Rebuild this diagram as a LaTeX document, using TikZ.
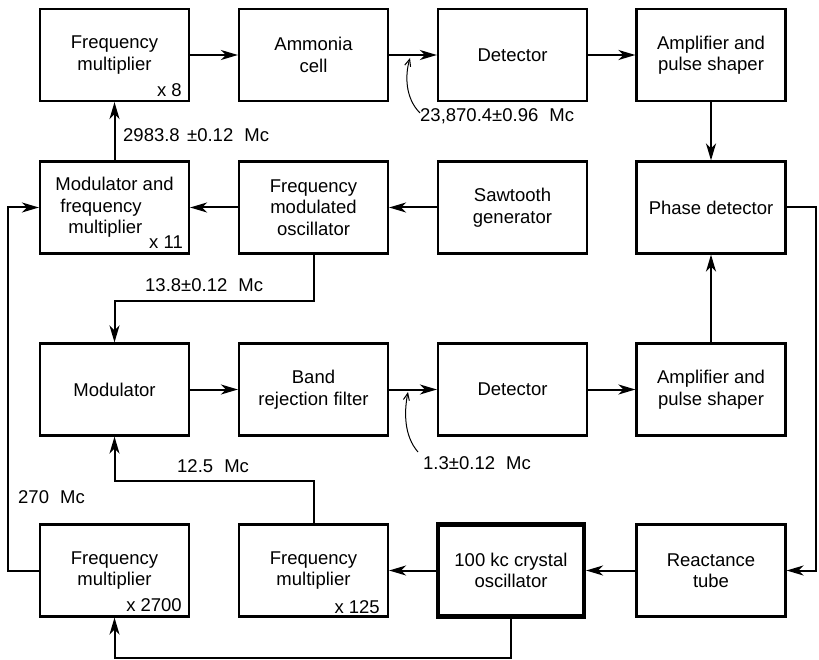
\documentclass[tikz,border=0pt]{standalone}
\usepackage{fontspec}
\setmainfont{Liberation Sans}
\usetikzlibrary{arrows.meta}
\begin{document}
\begin{tikzpicture}[x=1pt,y=-1pt,
  font=\fontsize{18.5}{21.5}\selectfont,
  box/.style={draw, line width=2.2pt, minimum width=149pt, minimum height=92pt, align=center, inner sep=2pt},
  thickbox/.style={box, line width=4.2pt, minimum width=146pt, minimum height=92pt},
  conn/.style={line width=2pt},
  arr/.style={conn, -{Stealth[length=17pt,width=10pt,inset=5pt]}},
  ptr/.style={line width=1pt, -{Straight Barb[length=7pt,width=6pt]}},
  lab/.style={inner sep=0pt, anchor=west},
  fac/.style={inner sep=0pt, anchor=east}]
\useasboundingbox (0,0) rectangle (819,660);

% row 1
\node[box] (fm8)  at (114.5,55) {Frequency\\multiplier};
\node[box] (amm)  at (313.5,55) {Ammonia\\cell};
\node[box] (det1) at (512.5,55) {Detector};
\node[box] (amp1) at (711,55) {Amplifier and\\pulse shaper};
% row 2
\node[box, align=left] (mod11) at (114.5,207.5) {Modulator and\\\hspace*{5pt}frequency\\\hspace*{13pt}multiplier};
\node[box] (fmo)  at (313.5,207.5) {Frequency\\modulated\\oscillator};
\node[box] (saw)  at (512.5,207.5) {Sawtooth\\generator};
\node[box] (phd)  at (711,207.5) {Phase detector};
% row 3
\node[box] (mod)  at (114.5,389.5) {Modulator};
\node[box] (brf)  at (313.5,389.5) {Band\\rejection filter};
\node[box] (det2) at (512.5,389.5) {Detector};
\node[box] (amp2) at (711,389.5) {Amplifier and\\pulse shaper};
% row 4
\node[box] (fm2700) at (114.5,570.5) {Frequency\\multiplier};
\node[box] (fm125)  at (313.5,570.5) {Frequency\\multiplier};
\node[thickbox] (xtal) at (511,570.5) {100 kc crystal\\oscillator};
\node[box] (reac)   at (711,570.5) {Reactance\\tube};

% factors
\node[fac] (f8)    at (182,90)  {x 8};
\node[fac] (f11)   at (183,242) {x 11};
\node[fac] (f2700) at (182,605) {x 2700};
\node[fac] (f125)  at (380,607) {x 125};

% labels
\node[lab] (l1) at (123,135) {2983.8\hspace{0.4em}±0.12\hspace{0.6em}Mc};
\node[lab] (l2) at (420,116) {23,870.4±0.96\hspace{0.6em}Mc};
\node[lab] (l3) at (145,285) {13.8±0.12\hspace{0.6em}Mc};
\node[lab] (l4) at (177,466) {12.5\hspace{0.6em}Mc};
\node[lab] (l5) at (18,497)  {270\hspace{0.6em}Mc};
\node[lab] (l6) at (423,463) {1.3±0.12\hspace{0.6em}Mc};

% junction coordinates
\coordinate (j1) at (313.5,301);
\coordinate (j2) at (313.5,481);
\coordinate (r1) at (816,207.5);
\coordinate (r2) at (816,570.5);
\coordinate (q1) at (8,570.5);
\coordinate (q2) at (8,207.5);
\coordinate (b1) at (511,658);
\coordinate (b2) at (114.5,658);
\coordinate (t1) at (410,58);
\coordinate (s1) at (420,113);
\coordinate (t2) at (408,392);
\coordinate (s2) at (418,452);

% connectors
\draw[arr] (mod11) -- (fm8);
\draw[arr] (fm8) -- (amm);
\draw[arr] (amm) -- (det1);
\draw[arr] (det1) -- (amp1);
\draw[arr] (amp1) -- (phd);
\draw[arr] (saw) -- (fmo);
\draw[arr] (fmo) -- (mod11);
\draw[arr] (fmo.south) -- (j1) -| (mod.north);
\draw[arr] (phd.east) -- (r1) -- (r2) -- (reac.east);
\draw[arr] (mod) -- (brf);
\draw[arr] (brf) -- (det2);
\draw[arr] (det2) -- (amp2);
\draw[arr] (amp2) -- (phd);
\draw[arr] (reac) -- (xtal);
\draw[arr] (xtal) -- (fm125);
\draw[arr] (fm125.north) -- (j2) -| (mod.south);
\draw[arr] (fm2700.west) -- (q1) -- (q2) -- (mod11.west);
\draw[arr] (xtal.south) -- (b1) -- (b2) -- (fm2700.south);

% pointers
\draw[ptr] (s1) .. controls (405,98) and (405,75) .. (t1);
\draw[ptr] (s2) .. controls (404,436) and (404,412) .. (t2);
\end{tikzpicture}
\end{document}
